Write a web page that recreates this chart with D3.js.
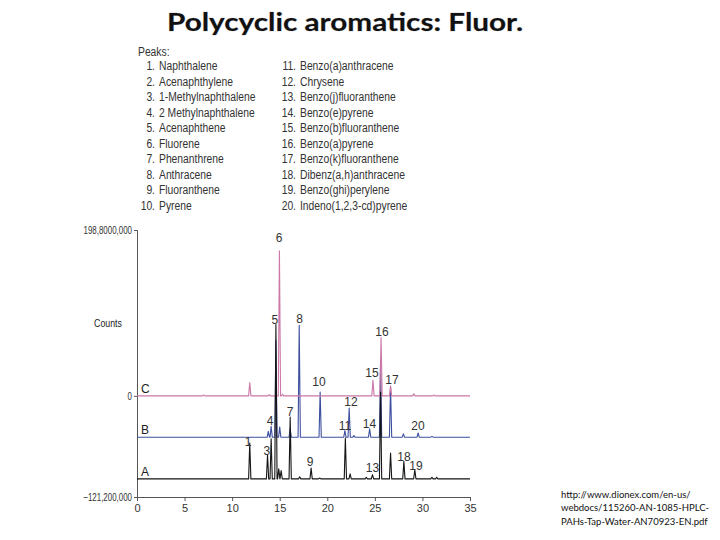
<!DOCTYPE html>
<html>
<head>
<meta charset="utf-8">
<script src="https://cdn.jsdelivr.net/npm/d3@7"></script>
<style>
  body { margin: 0; background: #fff; }
  svg { display: block; }
  .peaks text { font-family: "Liberation Sans", Arial, sans-serif; font-size: 12px; fill: #333; }
  .axis text { font-family: "Liberation Sans", Arial, sans-serif; font-size: 11px; fill: #333; }
  .lbl { font-family: "Liberation Sans", Arial, sans-serif; font-size: 12px; fill: #222; }
</style>
</head>
<body>
<script>
// compound list
var compoundsLeft = ['Naphthalene', 'Acenaphthylene', '1-Methylnaphthalene', '2 Methylnaphthalene',
  'Acenaphthene', 'Fluorene', 'Phenanthrene', 'Anthracene', 'Fluoranthene', 'Pyrene']
var compoundsRight = ['Benzo(a)anthracene', 'Chrysene', 'Benzo(j)fluoranthene', 'Benzo(e)pyrene',
  'Benzo(b)fluoranthene', 'Benzo(a)pyrene', 'Benzo(k)fluoranthene', 'Dibenz(a,h)anthracene',
  'Benzo(ghi)perylene', 'Indeno(1,2,3-cd)pyrene']

// axes
var xTicks = [0, 5, 10, 15, 20, 25, 30, 35]
var yTicks = [198.8, 0, -121.2]
var yTickLabels = ['198,8000,000', '0', '\u2212121,200,000']

// traces: retention time (min) and peak height (millions of counts) above each baseline
var traceNames = ['A', 'B', 'C']
var traceOffsets = [-99.5, -49.5, 0]

var timesA = [11.85, 13.72, 14.1, 14.6, 14.9, 15.15, 16.1, 17.1, 18.3, 19.2, 21.9, 22.4, 24.1, 24.75, 25.6, 26.65, 28.05, 29.2, 31.0, 31.5]
var heightsA = [43, 29, 48, 185, 12, 10, 74, 2.5, 13, 1, 49, 6, 2, 5, 104, 31, 21, 11, 2, 2]

var timesB = [13.8, 14.1, 14.6, 15.0, 16.1, 17.05, 19.25, 21.85, 22.3, 22.8, 24.45, 25.6, 26.65, 28.0, 29.55, 31.0]
var heightsB = [7, 13, 116, 12, 10, 134, 54, 8, 35, 2, 10, 92, 60, 4, 5, 1]

var timesC = [7.0, 11.85, 13.9, 14.97, 15.3, 24.8, 25.65, 26.65, 29.1, 31.2]
var heightsC = [1, 16, 1.5, 174, 2, 19, 70, 12, 2.5, 1]

// peak number labels (time, counts in millions)
var peakLabels = ['1', '3', '4', '5', '6', '7', '8', '9', '10', '11', '12', '13', '14', '15', '16', '17', '18', '19', '20']
var peakLabelTimes = [11.67, 13.66, 13.98, 14.5, 14.93, 16.08, 17.08, 18.19, 19.13, 21.86, 22.49, 24.75, 24.44, 24.7, 25.75, 26.8, 28.06, 29.32, 29.53]
var peakLabelCounts = [-55.3, -66.1, -30.1, 91.0, 189.2, -19.3, 92.1, -79.3, 16.6, -36.1, -7.3, -86.4, -33.7, 27.4, 76.6, 19.0, -73.3, -84.1, -36.1]

var sourceLines = ['http://www.dionex.com/en-us/', 'webdocs/115260-AN-1085-HPLC-', 'PAHs-Tap-Water-AN70923-EN.pdf']

var width = 720, height = 540
var svg = d3.select('body').append('svg').attr('width', width).attr('height', height)

var x = d3.scaleLinear().domain([0, 35]).range([137, 470])
var y = d3.scaleLinear().domain([-121.2, 198.8]).range([497, 230])

renderTitle(svg)
renderPeakList(svg)
renderAxes(svg)
renderTraces(svg)
renderSource(svg)

// squeeze text horizontally to mimic the condensed face of the original
function condense (sel, k) {
  sel.each(function () {
    var len = this.getComputedTextLength()
    d3.select(this).attr('textLength', len * k).attr('lengthAdjust', 'spacingAndGlyphs')
  })
}

function renderTitle (svg) {
  svg.append('text')
      .attr('x', 345).attr('y', 31)
      .attr('text-anchor', 'middle')
      .attr('textLength', 356).attr('lengthAdjust', 'spacingAndGlyphs')
      .style('font-family', 'Lato, "Open Sans", sans-serif')
      .style('font-weight', 'bold').style('font-size', '25px')
      .style('fill', '#111')
      .style('stroke', '#bbb').style('stroke-width', 0.6)
      .style('paint-order', 'stroke')
      .text('Polycyclic aromatics: Fluor.')
}

function renderPeakList (svg) {
  var g = svg.append('g').attr('class', 'peaks')
  var step = 15.56, y0 = 70

  g.append('text').attr('x', 138).attr('y', 56).text('Peaks:')

  compoundsLeft.forEach(function (name, i) {
    g.append('text').attr('x', 155).attr('y', y0 + i * step)
        .attr('text-anchor', 'end').text((i + 1) + '.')
    g.append('text').attr('x', 159).attr('y', y0 + i * step).text(name)
  })

  compoundsRight.forEach(function (name, i) {
    g.append('text').attr('x', 296).attr('y', y0 + i * step)
        .attr('text-anchor', 'end').text((i + 11) + '.')
    g.append('text').attr('x', 300).attr('y', y0 + i * step).text(name)
  })

  condense(g.selectAll('text'), 0.86)
}

function renderAxes (svg) {
  var gx = svg.append('g').attr('class', 'axis')
      .attr('transform', 'translate(0,' + y(-121.2) + ')')
      .call(d3.axisBottom(x).tickValues(xTicks).tickSize(4).tickPadding(3))
  gx.select('.domain').attr('stroke', '#555')
  gx.selectAll('.tick line').attr('stroke', '#555')

  var gy = svg.append('g').attr('class', 'axis')
      .attr('transform', 'translate(' + x(0) + ',0)')
      .call(d3.axisLeft(y).tickValues(yTicks).tickSize(3).tickPadding(2)
        .tickFormat(function (d, i) { return yTickLabels[i] }))
  gy.select('.domain').attr('stroke', '#555')
  gy.selectAll('.tick line').attr('stroke', '#555')
  condense(gy.selectAll('text'), 0.72)

  var counts = svg.append('text').attr('class', 'lbl')
      .attr('x', 108).attr('y', 327).attr('text-anchor', 'middle')
      .style('font-size', '11px')
      .text('Counts')
  condense(counts, 0.8)
}

function tracePoints (times, heights, offset) {
  var w = 0.12
  var pts = [[0, offset]]
  times.forEach(function (t, i) {
    pts.push([t - w, offset], [t, offset + heights[i]], [t + w, offset])
  })
  pts.push([35, offset])
  return pts
}

function renderTraces (svg) {
  var line = d3.line()
      .x(function (d) { return x(d[0]) })
      .y(function (d) { return y(d[1]) })

  var traces = [
    { times: timesB, heights: heightsB, offset: traceOffsets[1], color: '#3d4f9e' },
    { times: timesC, heights: heightsC, offset: traceOffsets[2], color: '#cc77a8' },
    { times: timesA, heights: heightsA, offset: traceOffsets[0], color: '#151515' }
  ]

  traces.forEach(function (tr) {
    svg.append('path')
        .attr('d', line(tracePoints(tr.times, tr.heights, tr.offset)))
        .attr('fill', 'none')
        .attr('stroke', tr.color)
        .attr('stroke-width', 1.1)
        .attr('stroke-linejoin', 'round')
  })

  traceNames.forEach(function (name, i) {
    svg.append('text').attr('class', 'lbl')
        .attr('x', x(0) + 4).attr('y', y(traceOffsets[i]) - 3)
        .text(name)
  })

  var labels = svg.append('g')
  peakLabels.forEach(function (label, i) {
    labels.append('text').attr('class', 'lbl')
        .attr('x', x(peakLabelTimes[i])).attr('y', y(peakLabelCounts[i]) + 4)
        .attr('text-anchor', 'middle')
        .style('fill', '#333')
        .text(label)
  })
}

function renderSource (svg) {
  sourceLines.forEach(function (s, i) {
    svg.append('text')
        .attr('x', 561).attr('y', 498 + i * 13.3)
        .style('font-family', 'Lato, "Open Sans", sans-serif')
        .style('font-size', '9.5px').style('fill', '#111')
        .text(s)
  })
}
</script>
</body>
</html>
